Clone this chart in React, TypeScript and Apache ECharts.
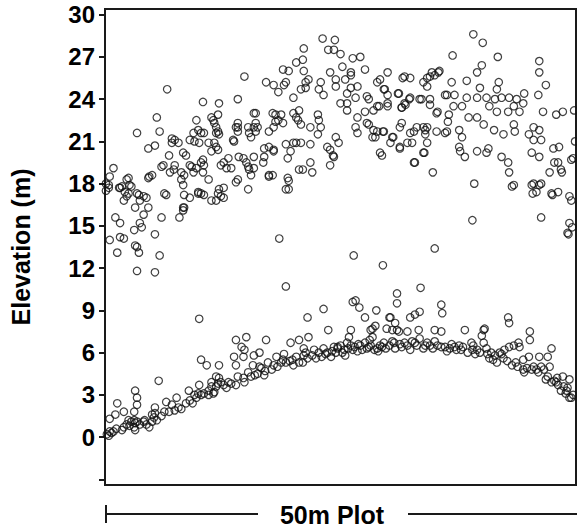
import React, { useEffect, useRef } from "react";
import * as echarts from "echarts";

// Elevation (m) of points along a 50 m plot — upper canopy cloud
const canopyPoints: [number, number][] = [
  [5.5,22.7],[3.4,21.6],[5.8,21.7],[4.6,20.5],[5.3,20.7],[7.1,21.2],[7.4,21.1],[7.1,20.9],[7.8,20.9],[9.4,21.6],
  [9.9,21.8],[9.7,22.5],[10.2,21.6],[9.0,21.1],[9.5,21.0],[10.0,20.9],[11.5,22.5],[11.6,22.3],[11.3,22.7],[12.0,22.9],
  [11.8,21.6],[12.0,21.7],[12.1,21.5],[11.8,22.0],[11.6,20.9],[11.8,20.6],[12.0,20.4],[10.5,21.6],[11.0,20.9],[11.3,20.3],
  [13.6,21.1],[13.7,21.0],[14.1,22.3],[14.1,22.0],[14.1,21.7],[13.9,22.0],[15.2,22.0],[15.3,21.6],[16.0,22.3],[16.0,23.0],
  [15.8,22.0],[17.4,21.7],[18.1,22.9],[18.7,22.9],[18.4,22.5],[17.9,22.0],[18.9,22.3],[19.2,20.8],[20.0,20.9],[20.5,22.5],
  [20.0,23.0],[16.9,20.5],[17.4,20.6],[17.9,20.4],[19.7,20.3],[15.2,19.2],[15.3,19.0],[15.8,19.1],[15.5,18.6],[17.4,18.5],
  [14.1,18.3],[13.1,19.8],[12.6,19.5],[12.3,19.3],[12.9,19.1],[13.4,19.1],[12.0,17.3],[12.3,17.1],[12.6,17.0],[11.8,16.8],
  [12.1,17.6],[10.2,17.3],[10.5,17.2],[9.9,17.3],[11.3,16.8],[8.4,17.2],[9.0,17.0],[8.4,16.3],[8.3,16.1],[8.1,18.3],
  [8.3,17.9],[8.4,18.6],[8.1,18.8],[9.2,19.2],[9.0,19.3],[9.7,19.1],[9.4,18.8],[10.4,18.8],[11.0,18.3],[10.2,19.5],
  [10.4,19.7],[10.5,19.3],[8.6,20.0],[8.3,20.2],[6.9,18.8],[7.3,19.0],[6.8,20.0],[7.4,19.3],[6.0,19.2],[6.2,19.3],
  [4.7,18.5],[5.0,18.6],[4.6,18.4],[6.5,17.2],[6.0,15.6],[7.9,15.6],[8.3,16.3],[5.3,14.4],[5.8,12.9],[5.3,11.7],
  [3.4,11.8],[3.6,13.1],[3.4,13.5],[3.1,14.7],[3.9,14.9],[3.7,15.2],[4.1,15.8],[4.6,16.3],[4.4,17.0],[4.1,17.1],
  [3.2,16.3],[3.7,16.8],[3.6,17.2],[3.4,17.3],[2.6,17.9],[2.5,18.4],[2.3,18.3],[2.8,17.8],[2.1,17.4],[2.3,17.1],
  [2.0,16.8],[2.5,17.3],[1.8,17.8],[1.6,17.7],[1.5,17.7],[1.1,15.6],[1.6,15.2],[1.6,14.2],[2.0,14.1],[0.5,14.0],
  [1.3,13.1],[3.2,13.6],[0.9,19.1],[0.5,18.5],[0.4,17.9],[0.4,17.7],[0.1,18.0],[0.1,17.5],[12.6,17.7],[13.9,18.1],
  [15.2,17.6],[15.0,19.5],[14.2,19.9],[14.7,19.8],[17.8,18.6],[19.4,19.8],[19.4,18.4],[19.5,18.2],[19.2,17.6],[20.3,20.9],
  [20.6,19.0],[10.4,23.8],[12.1,23.7],[14.1,24.0],[14.8,25.6],[6.6,24.7],[6.3,17.3],[9.9,17.4],
  [23.1,28.3],[24.4,28.2],[21.1,27.6],[23.7,27.5],[24.3,27.5],[25.0,27.2],[26.3,26.9],[27.1,27.0],[20.3,26.6],[21.0,26.8],
  [18.9,26.1],[19.5,26.0],[21.1,26.0],[23.9,25.9],[25.2,26.3],[26.1,25.9],[27.6,26.1],[30.0,25.9],[17.1,25.2],[17.9,25.0],
  [19.0,25.0],[19.2,25.2],[18.4,24.5],[21.3,25.2],[21.6,25.4],[22.9,25.2],[24.5,25.4],[25.5,25.4],[26.1,25.7],[20.0,24.1],
  [20.8,24.7],[21.3,24.8],[22.7,24.7],[23.2,24.3],[24.5,24.9],[25.7,24.4],[26.1,24.8],[26.8,24.9],[26.6,24.1],[25.7,23.7],
  [25.0,23.7],[27.8,24.2],[28.0,24.0],[27.6,23.1],[28.5,23.2],[28.9,23.5],[29.2,25.4],[29.7,24.7],[30.0,24.3],[30.0,23.7],
  [31.1,24.4],[31.6,25.5],[32.4,25.5],[32.4,24.1],[31.9,23.6],[31.5,23.4],[33.8,25.2],[34.5,25.6],[35.0,25.7],[35.5,26.0],
  [34.2,24.9],[34.5,24.0],[33.6,24.0],[35.3,23.1],[36.3,24.3],[15.8,23.0],[16.2,22.0],[16.0,21.7],[15.5,21.3],[17.8,23.0],
  [18.1,22.4],[20.3,22.7],[20.6,23.2],[20.8,22.2],[21.8,22.0],[22.6,22.9],[22.7,22.5],[22.9,22.0],[22.6,21.5],[20.8,20.9],
  [21.8,20.8],[17.9,20.3],[16.9,19.9],[15.8,19.9],[23.6,20.6],[23.9,20.4],[24.5,21.3],[24.8,20.9],[24.3,19.9],[23.9,19.3],
  [24.2,20.0],[21.8,19.5],[22.0,18.8],[21.0,19.0],[19.5,17.6],[17.4,18.6],[16.8,19.5],[25.7,23.2],[26.8,22.7],[26.6,22.0],
  [26.8,21.6],[27.8,22.3],[28.0,22.2],[28.4,21.3],[28.7,21.3],[28.5,21.8],[29.5,21.7],[29.2,20.2],[29.4,20.0],[30.6,21.3],
  [32.1,20.9],[32.6,20.9],[31.3,20.5],[34.0,21.5],[34.2,20.9],[33.8,20.2],[32.9,19.5],[34.8,18.8],[33.1,22.0],[33.8,22.0],
  [35.2,21.7],[36.3,21.7],[35.2,23.0],[36.4,22.4],
  [39.1,28.6],[40.1,28.0],[36.9,27.1],[41.7,27.0],[46.1,26.7],[31.8,25.6],[34.2,25.5],[34.7,25.9],[35.4,25.9],[36.8,25.2],
  [38.4,25.3],[39.5,25.9],[40.0,26.4],[39.8,24.8],[41.8,25.2],[41.6,24.7],[44.5,24.4],[46.1,25.9],[46.8,25.0],[46.0,24.3],
  [28.9,25.2],[29.6,24.7],[31.2,24.4],[32.3,24.0],[33.4,24.0],[34.5,23.6],[36.1,24.3],[37.1,24.3],[38.4,24.1],[39.5,24.1],
  [40.5,24.1],[41.4,24.0],[42.1,24.1],[42.9,24.1],[43.7,24.0],[44.4,23.7],[29.1,23.5],[30.0,23.5],[31.5,23.4],[31.8,23.7],
  [36.5,22.9],[37.0,23.5],[37.9,23.5],[38.6,22.7],[39.5,22.7],[40.2,22.2],[40.8,23.5],[41.6,23.1],[42.8,23.1],[43.4,23.5],
  [44.0,23.1],[46.5,23.1],[47.9,22.9],[48.6,23.1],[28.9,21.7],[29.6,21.7],[30.5,21.3],[31.3,22.0],[31.5,22.3],[32.4,21.6],
  [32.8,21.7],[34.0,21.8],[34.2,22.0],[36.1,21.6],[37.6,21.8],[37.9,21.3],[37.6,20.6],[37.7,20.3],[38.2,19.9],[39.5,20.3],
  [40.5,20.2],[40.7,20.5],[41.3,21.8],[42.3,21.5],[43.4,22.2],[43.5,21.7],[45.0,21.5],[45.5,22.0],[46.1,21.8],[45.5,21.1],
  [46.3,21.1],[45.3,20.2],[46.1,19.9],[47.6,20.5],[48.2,20.6],[48.1,19.5],[49.7,19.8],[48.4,19.0],[47.2,18.8],[49.3,17.1],
  [30.3,20.9],[31.3,20.6],[32.8,19.5],[33.9,20.2],[39.2,18.0],[42.1,19.9],[42.8,19.5],[42.9,18.8],[43.4,17.9],[45.5,18.0],
  [45.8,17.4],[46.3,18.0],[47.4,17.3],[48.1,17.4],[43.2,17.8],[45.3,17.9],[45.4,17.3],[46.1,17.9],[47.5,17.2],[39.0,15.4],
  [46.3,15.6],[49.3,15.2],[49.6,14.9],[49.1,14.5],[49.5,16.8],[47.7,19.5],[48.5,18.8],[49.5,19.7],[49.9,21.0],[49.8,23.2],
  [19.2,10.7],[18.5,14.1],[26.4,12.9],[29.5,12.2],[35.0,13.4],[49.2,14.4]
];

// Ground surface points
const groundPoints: [number, number][] = [
  [0.4,0.1],[0.5,0.4],[0.7,0.3],[0.9,0.4],[0.5,1.3],[1.1,1.6],[1.3,2.4],[2.0,1.8],[1.8,0.5],[2.0,0.7],
  [2.3,0.9],[2.5,1.2],[2.8,1.1],[3.1,1.2],[3.2,1.0],[3.2,0.5],[3.4,1.1],[3.1,0.7],[3.7,0.9],[3.2,3.3],
  [3.4,2.8],[3.4,2.3],[3.1,1.8],[4.1,1.1],[4.2,1.2],[4.7,0.7],[5.0,1.1],[5.2,1.4],[5.3,1.7],[5.3,2.1],
  [5.5,1.2],[5.0,1.6],[5.7,4.0],[6.3,1.8],[6.8,1.8],[6.5,2.5],[7.1,2.3],[7.6,2.8],[7.8,2.1],[7.4,1.9],
  [8.6,2.4],[8.9,3.3],[9.0,2.6],[9.5,3.0],[9.9,3.1],[10.2,3.0],[9.7,2.8],[10.0,3.7],[10.5,3.1],[11.0,3.3],
  [11.3,3.6],[11.0,3.0],[11.5,3.1],[11.8,3.6],[12.1,4.2],[12.0,3.8],[12.3,3.9],[12.6,3.7],[11.6,3.2],[11.3,3.9],
  [11.8,4.3],[13.1,3.9],[13.9,3.7],[14.1,4.3],[14.7,4.2],[14.8,3.9],[15.5,4.3],[16.2,4.5],[16.6,4.9],[16.9,4.4],
  [16.4,5.0],[17.3,5.3],[17.9,5.1],[18.7,5.3],[18.9,5.5],[19.2,5.3],[20.0,5.1],[20.6,5.3],[21.0,5.3],[21.1,5.8],
  [21.5,5.6],[21.3,6.0],[22.2,6.2],[22.7,6.0],[23.0,5.7],[23.2,6.3],[23.6,6.0],[24.0,5.7],[24.3,6.4],[24.7,6.3],
  [13.9,6.9],[15.0,7.1],[17.1,6.9],[14.5,6.4],[14.8,6.2],[13.7,5.7],[13.9,5.1],[14.7,5.7],[15.8,5.8],[16.4,6.0],
  [15.7,5.1],[12.1,5.1],[10.2,5.5],[10.8,5.1],[19.7,6.7],[20.6,6.9],[21.6,7.1],[21.5,8.5],[23.7,7.6],[23.2,9.1],
  [21.1,6.3],[10.0,8.4],[15.2,4.6],[17.7,4.8],[18.3,5.0],[19.6,5.4],[20.3,5.7],[22.4,5.6],[23.4,5.9],[24.5,6.0],
  [19.0,5.9],[18.2,5.7],[0.2,0.2],[1.2,0.6],[2.6,0.8],[4.4,0.9],[6.0,1.5],[8.1,2.0],[9.3,2.4],[12.9,3.5],
  [13.4,3.8],[15.9,4.4],[17.0,4.7],[19.9,5.5],[22.0,5.8],[24.1,6.1],
  [24.7,6.4],[25.0,6.5],[25.4,6.2],[25.5,5.8],[25.7,6.7],[25.9,7.1],[26.1,6.5],[26.3,6.2],[26.5,6.4],[26.1,7.6],
  [27.1,6.5],[27.6,6.7],[27.8,6.3],[28.1,6.9],[28.2,6.5],[28.4,7.1],[28.6,6.2],[28.2,7.6],[28.4,7.7],[28.7,7.9],
  [27.6,8.5],[28.9,6.3],[29.2,6.5],[29.6,6.7],[29.9,7.7],[30.3,8.5],[30.5,7.6],[30.7,6.7],[30.8,8.1],[30.8,6.3],
  [30.5,6.8],[31.0,7.6],[31.2,7.5],[31.8,6.7],[32.1,6.5],[32.1,7.5],[32.6,6.8],[32.9,6.7],[33.3,7.6],[33.4,7.0],
  [32.4,8.5],[32.9,8.7],[33.4,8.9],[34.2,6.7],[34.5,6.5],[35.0,6.8],[35.3,6.5],[35.7,6.4],[35.0,7.6],[35.7,7.5],
  [36.1,6.4],[36.6,6.3],[37.1,6.4],[37.6,6.5],[38.0,6.4],[37.3,6.2],[38.2,7.6],[38.9,6.7],[39.1,6.5],[39.5,6.2],
  [39.8,6.0],[40.2,7.6],[40.3,7.7],[40.0,7.2],[40.2,6.7],[40.5,6.3],[41.0,6.0],[41.2,5.5],[41.6,5.3],[41.9,6.0],
  [42.3,5.6],[42.4,6.2],[42.9,6.4],[43.4,6.5],[43.9,6.7],[44.0,6.4],[44.4,5.5],[45.0,5.7],[45.1,7.5],[45.1,6.9],
  [45.5,5.0],[45.8,4.8],[46.1,5.7],[47.0,5.7],[47.4,6.3],[47.2,5.0],[46.3,5.0],[46.6,4.8],[47.0,4.3],[47.4,3.9],
  [46.8,4.1],[48.6,4.3],[49.3,4.1],[48.1,3.7],[48.4,3.3],[48.9,3.1],[49.3,2.8],[49.5,2.8],[49.1,3.5],[44.4,4.8],
  [44.5,4.6],[42.8,8.5],[42.9,8.1],[26.3,9.6],[26.6,9.7],[27.0,9.2],[31.0,10.2],[31.0,9.5],[33.5,10.6],[35.7,9.4],
  [35.8,8.8],[28.8,9.0],[30.2,8.5],[25.2,6.0],[26.8,6.1],[27.3,6.2],[29.0,6.1],[29.8,6.3],[31.5,6.4],[32.4,6.2],
  [33.8,6.3],[34.8,6.3],[36.3,6.1],[38.5,6.0],[39.3,5.9],[40.8,5.6],[41.4,5.8],[42.7,5.4],[43.2,5.1],[43.8,5.0],
  [44.8,4.9],[46.0,4.6],[47.7,4.0],[48.0,4.2],[49.7,3.0],[48.7,3.6],[25.8,6.3],[26.9,6.6],[28.0,6.4],[29.4,6.4],
  [30.2,6.5],[31.3,6.6],[33.1,6.5],[34.0,6.5],[36.8,6.6],[37.8,6.2],[39.0,6.2],[40.6,5.9],[42.1,5.9],[43.6,5.3],
  [45.3,4.8],[47.9,3.9],[49.0,3.3]
];

const yTickValues = [-3, 0, 3, 6, 9, 12, 15, 18, 21, 24, 27, 30];
const yLabelValues = [0, 3, 6, 9, 12, 15, 18, 21, 24, 27, 30];
const yAxisTitle = "Elevation (m)";
const xAxisTitle = "50m Plot";

const FONT = "'Liberation Sans', Arial, Helvetica, sans-serif";

export default function App() {
  const ref = useRef<HTMLDivElement>(null);

  useEffect(() => {
    if (!ref.current) return;
    const chart = echarts.init(ref.current, null, { renderer: "svg" });
    const symbolStyle = {
      color: "rgba(255,255,255,0)",
      borderColor: "#111111",
      borderWidth: 1.2,
    };
    chart.setOption({
      animation: false,
      backgroundColor: "#ffffff",
      grid: {
        left: 103,
        top: 9,
        right: 1,
        bottom: 44,
        show: true,
        borderColor: "#1a1a1a",
        borderWidth: 2,
        backgroundColor: "transparent",
      },
      xAxis: {
        type: "value",
        min: 0,
        max: 50,
        axisLine: { show: false },
        axisTick: { show: false },
        axisLabel: { show: false },
        splitLine: { show: false },
      },
      yAxis: {
        type: "value",
        min: -3.4,
        max: 30.4,
        name: yAxisTitle,
        nameLocation: "middle",
        nameRotate: 90,
        nameGap: 72,
        nameTextStyle: {
          fontFamily: FONT,
          fontWeight: "bold",
          fontSize: 25,
          color: "#000",
        },
        axisLine: { show: true, lineStyle: { color: "#1a1a1a", width: 2 } },
        axisTick: {
          show: true,
          length: 6,
          customValues: yTickValues,
          lineStyle: { color: "#1a1a1a", width: 2 },
        },
        axisLabel: {
          customValues: yLabelValues,
          fontFamily: FONT,
          fontWeight: "bold",
          fontSize: 24,
          color: "#000",
          margin: 10,
        },
        splitLine: { show: false },
      },
      series: [
        {
          name: "Canopy",
          type: "scatter",
          symbol: "circle",
          symbolSize: 7.5,
          silent: true,
          itemStyle: symbolStyle,
          data: canopyPoints,
        },
        {
          name: "Ground",
          type: "scatter",
          symbol: "circle",
          symbolSize: 7.5,
          silent: true,
          itemStyle: symbolStyle,
          data: groundPoints,
        },
      ],
      graphic: [
        {
          type: "line",
          shape: { x1: 106, y1: 505, x2: 106, y2: 523 },
          style: { stroke: "#1a1a1a", lineWidth: 2 },
        },
        {
          type: "line",
          shape: { x1: 106, y1: 514, x2: 258, y2: 514 },
          style: { stroke: "#1a1a1a", lineWidth: 2 },
        },
        {
          type: "line",
          shape: { x1: 408, y1: 514, x2: 577, y2: 514 },
          style: { stroke: "#1a1a1a", lineWidth: 2 },
        },
        {
          type: "text",
          x: 332,
          y: 515,
          style: {
            text: xAxisTitle,
            fontFamily: FONT,
            fontWeight: "bold",
            fontSize: 25,
            fill: "#000",
            textAlign: "center",
            textVerticalAlign: "middle",
          },
        },
      ],
    });
    return () => chart.dispose();
  }, []);

  return (
    <div
      ref={ref}
      style={{ position: "fixed", left: 0, top: 0, width: 577, height: 529, background: "#fff" }}
    />
  );
}
